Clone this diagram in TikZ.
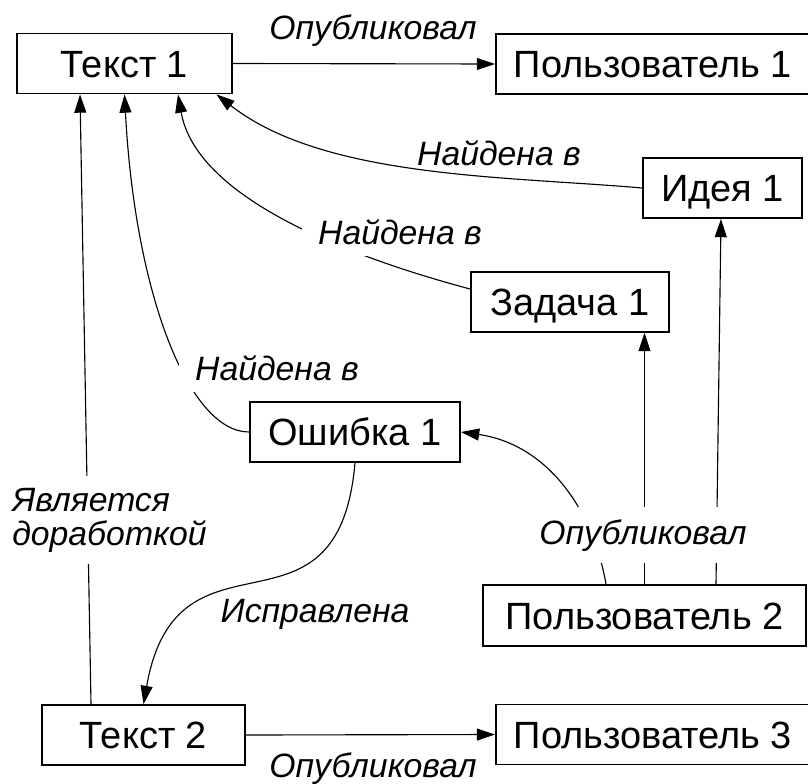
\documentclass[tikz,border=0pt]{standalone}
\usepackage{fontspec}
\setmainfont{Liberation Sans}
\usetikzlibrary{arrows.meta,calc}
\tikzset{
  box/.style={draw,line width=1.3pt,minimum height=1.5cm,inner sep=0pt,
    text height=19.5pt,text depth=0pt,font=\fontsize{27}{30}\selectfont},
  arr/.style={line width=0.8pt,-{Triangle[length=13pt,width=8.5pt]}},
  lbl/.style={font=\fontsize{24}{24.2}\selectfont\itshape,anchor=base,inner sep=0pt},
  cut/.style={fill=white,inner xsep=0.4cm,inner ysep=0.3cm}
}
\begin{document}
\begin{tikzpicture}[x=0.025cm,y=-0.025cm]
  \useasboundingbox (0,0) rectangle (808,783);
  % boxes
  \node[box,minimum width=5.375cm] (t1) at (124.5,63.5) {Текст 1};
  \node[box,minimum width=7.85cm] (p1) at (653,64) {Пользователь 1};
  \node[box,minimum width=3.975cm] (idea) at (722.5,188) {Идея 1};
  \node[box,minimum width=4.95cm] (task) at (570,302) {Задача 1};
  \node[box,minimum width=5.25cm] (bug) at (355,432) {Ошибка 1};
  \node[box,minimum width=8.075cm,minimum height=1.525cm] (p2) at (644.5,615.5) {Пользователь 2};
  \node[box,minimum width=5.075cm] (t2) at (143.5,735) {Текст 2};
  \node[box,minimum width=7.85cm] (p3) at (653,734.5) {Пользователь 3};
  % connectors
  \draw[arr] (t1.east) -- (p1.west);
  \draw[arr] (idea.west) to[out=175,in=-38,looseness=0.8] ($(t1.south)+(92,0)$);
  \draw[arr] ($(task.west)+(0,-13)$) to[out=165,in=-80,looseness=0.8] ($(t1.south)+(53.5,0)$);
  \draw[arr] (bug.west) to[out=180,in=-87,out looseness=0.43,in looseness=1.42] (t1.south);
  \draw[arr] ($(t2.north)+(-52.5,0)$) -- ($(t1.south)+(-44.5,0)$);
  \draw[arr] (bug.south) to[out=-95,in=80,looseness=1.55] (t2.north);
  \draw[arr] ($(p2.north)+(-38.5,0)$) to[out=100,in=-8] (bug.east);
  \draw[arr] (p2.north) -- (p2.north |- task.south);
  \draw[arr] ($(p2.north)+(71.5,0)$) -- ($(idea.south)+(-1.5,0)$);
  \draw[arr] (t2.east) -- (p3.west);
  % labels
  \node[lbl] (pub1) at (373,39) {Опубликовал};
  \node[lbl] (fnd1) at (499,165) {Найдена в};
  \node[lbl,cut] (fnd2) at (400,244) {Найдена в};
  \node[lbl,cut] (fnd3) at (277,380) {Найдена в};
  \node[lbl,cut,anchor=west,align=left] (impr) at (-4,520) {Является\\доработкой};
  \node[lbl,cut] (pub2) at (643,544) {Опубликовал};
  \node[lbl] (fix) at (315,622) {Исправлена};
  \node[lbl] (pub3) at (373,777) {Опубликовал};
\end{tikzpicture}
\end{document}
